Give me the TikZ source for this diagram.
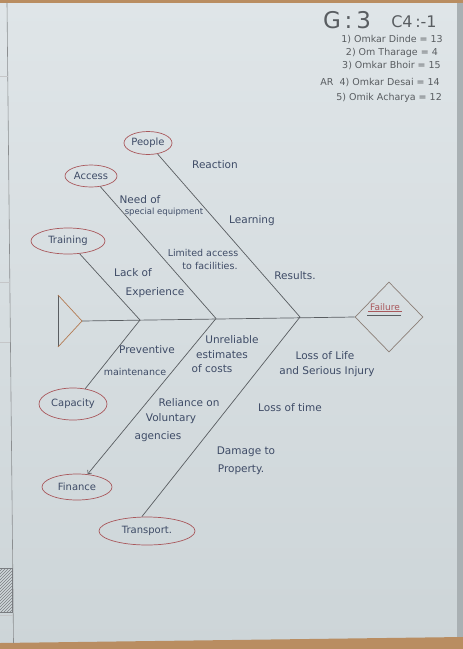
\documentclass[tikz,border=0pt]{standalone}
\usepackage{fontspec}
\setmainfont{DejaVu Sans}
\usetikzlibrary{shapes.geometric,arrows.meta,patterns}

\definecolor{paperhi}{HTML}{DFE5E8}
\definecolor{paperlo}{HTML}{CDD5D8}
\definecolor{edgegrey}{HTML}{A9B0B3}
\definecolor{wood}{HTML}{B98D61}
\definecolor{ink}{HTML}{595D61}
\definecolor{pen}{HTML}{3E4B66}
\definecolor{redpen}{HTML}{A9585C}
\definecolor{tailink}{HTML}{B37A52}
\definecolor{headink}{HTML}{8C7F78}

\tikzset{
  bone/.style={draw=ink, line width=0.7pt},
  cause/.style={ellipse, draw=redpen, line width=0.7pt, inner sep=0pt,
    text=pen, font=\fontsize{10}{12}\selectfont},
  note/.style={text=pen, inner sep=0pt, font=\fontsize{10.5}{12}\selectfont},
  smallnote/.style={note, font=\fontsize{9.5}{11}\selectfont},
  header/.style={text=ink, inner sep=0pt, font=\fontsize{9.5}{11}\selectfont},
}

\begin{document}
\begin{tikzpicture}[x=1pt,y=-1pt]
\useasboundingbox (0,0) rectangle (463,649);

% sheet of paper and its surroundings
\shade[top color=paperhi, bottom color=paperlo] (0,0) rectangle (463,649);
\fill[edgegrey] (457,0) rectangle (463,649);
\fill[wood] (0,0) rectangle (463,2.5);
\fill[wood] (0,643) -- (463,637) -- (463,649) -- (0,649) -- cycle;
\draw[ink!70, line width=0.6pt] (7,2.5) -- (13.5,643);
\draw[ink!35, line width=0.4pt] (0,76) -- (8,76);
\draw[ink!35, line width=0.4pt] (0,282) -- (9.5,282);
\draw[ink!35, line width=0.4pt] (0,342) -- (10,342);
\draw[ink!35, line width=0.4pt] (0,615) -- (13,615);
\draw[ink!80, pattern=north east lines, pattern color=ink!80] (-1,568) rectangle (12,612);

% header
\node[text=ink, inner sep=0pt, font=\fontsize{23}{26}\selectfont] (grp) at (347,20) {G\,:\,3};
\node[text=ink, inner sep=0pt, font=\fontsize{16}{18}\selectfont] (cls) at (414,22) {C4\,:-1};
\node[header, anchor=east] (m1) at (443,40) {1) Omkar Dinde = 13};
\node[header, anchor=east] (m2) at (438,53) {2) Om Tharage = 4};
\node[header, anchor=east] (m3) at (441,66) {3) Omkar Bhoir = 15};
\node[header, anchor=east] (m4) at (440,83) {AR\ \ 4) Omkar Desai = 14};
\node[header, anchor=east] (m5) at (442,98) {5) Omik Acharya = 12};

% tail and head of the fish
\coordinate (tailtop) at (58,295);
\coordinate (tailbot) at (58,347);
\coordinate (tailtip) at (82,321);
\draw[ink, line width=0.7pt] (tailtop) -- (tailbot);
\draw[tailink, line width=0.7pt] (tailtop) -- (tailtip) -- (tailbot);

\node[diamond, draw=headink, line width=0.7pt, minimum width=68pt,
      minimum height=70pt, inner sep=0pt] (head) at (389,317) {};
\node[text=redpen, inner sep=0.5pt, font=\fontsize{9}{10}\selectfont] (failure) at (385,307) {Failure};
\draw[redpen, line width=0.6pt] ([xshift=-1pt]failure.south west) -- ([xshift=1pt]failure.south east);
\draw[ink, line width=0.7pt] ([xshift=-2pt,yshift=-4.5pt]failure.south west) -- ([xshift=0pt,yshift=-4.5pt]failure.south east);

% spine
\draw[bone] (tailtip) -- (head.west);
\coordinate (j1) at (140,320);
\coordinate (j2) at (216,318.5);
\coordinate (j3) at (300,317);

% cause categories
\node[cause, minimum width=48pt, minimum height=23pt] (people) at (148,143) {People};
\node[cause, minimum width=52pt, minimum height=22pt] (access) at (91,176) {Access};
\node[cause, minimum width=74pt, minimum height=26pt] (training) at (68,241) {Training};
\node[cause, minimum width=68pt, minimum height=32pt] (capacity) at (73,404) {Capacity};
\node[cause, minimum width=70pt, minimum height=26pt] (finance) at (77,487) {Finance};
\node[cause, minimum width=96pt, minimum height=28pt] (transport) at (147,531) {Transport.};

% bones
\draw[bone] (people) -- (j3);
\draw[bone] (access) -- (j2);
\draw[bone] (training) -- (j1);
\draw[bone] (j1) -- (capacity);
\draw[bone, -{Straight Barb[length=3pt,width=5pt]}] (j2) -- (finance);
\draw[bone] (j3) -- (transport.110);

% sub-causes above the spine
\node[note] (reaction) at (215,165) {Reaction};
\node[note] (needA) at (140,200) {Need of};
\node[note, font=\fontsize{8.5}{10}\selectfont] (needB) at (164,212) {special equipment};
\node[note] (learning) at (252,221) {Learning};
\node[smallnote] (limA) at (203,253) {Limited access};
\node[smallnote] (limB) at (210,266) {to facilities.};
\node[note] (lackA) at (133,273) {Lack of};
\node[note] (lackB) at (155,293) {Experience};
\node[note] (results) at (295,276) {Results.};

% sub-causes below the spine
\node[note] (prevA) at (147,350) {Preventive};
\node[smallnote] (prevB) at (135,372) {maintenance};
\node[note] (unrA) at (232,340) {Unreliable};
\node[note] (unrB) at (222,355) {estimates};
\node[note] (unrC) at (212,369) {of costs};
\node[note] (lifeA) at (325,356) {Loss of Life};
\node[note] (lifeB) at (327,372) {and Serious Injury};
\node[note] (relA) at (189,403) {Reliance on};
\node[note] (relB) at (171,419) {Voluntary};
\node[note] (relC) at (158,437) {agencies};
\node[note] (ltime) at (290,408) {Loss of time};
\node[note] (damA) at (246,452) {Damage to};
\node[note] (damB) at (241,470) {Property.};

\end{tikzpicture}
\end{document}
